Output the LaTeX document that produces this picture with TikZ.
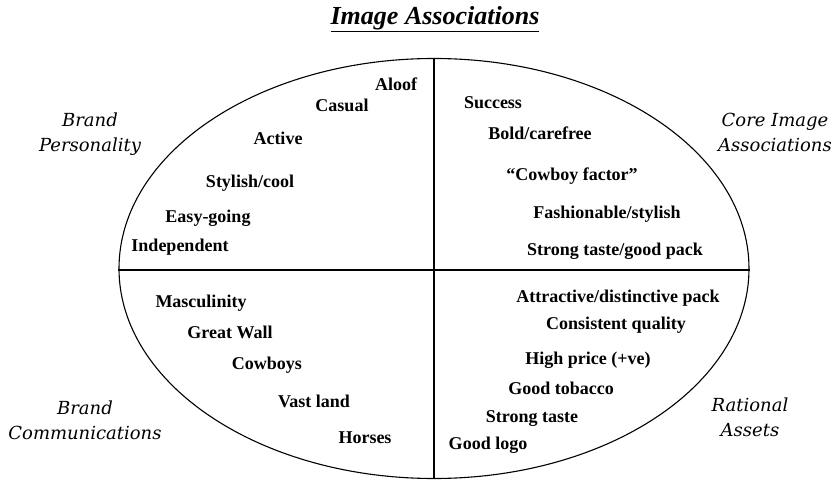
\documentclass[tikz,border=0pt]{standalone}
\usepackage{fontspec}
\setmainfont{Liberation Serif}
\newfontfamily\quadfont{DejaVu Serif}
\usetikzlibrary{shapes.geometric}
\begin{document}
\begin{tikzpicture}[x=1pt,y=-1pt,
  item/.style={inner sep=0pt, text height=12pt, text depth=0pt, font=\fontsize{18}{22}\selectfont\bfseries},
  quad/.style={inner sep=0pt, align=center, font=\quadfont\itshape\fontsize{18}{25}\selectfont},
  frame/.style={draw, line width=1.1pt}]
\useasboundingbox (0,0) rectangle (836,481);
\node[inner sep=0pt, font=\fontsize{26}{30}\selectfont\bfseries\itshape] (title) at (435,19) {\underline{Image Associations}};
\node[frame, ellipse, inner sep=0pt, minimum width=630, minimum height=420] (ell) at (434,268.5) {};
\draw[line width=1.1pt] (ell.north) -- (ell.south);
\draw[line width=1.1pt] ([yshift=-1.5pt]ell.west) -- ([yshift=-1.5pt]ell.east);
% quadrant labels
\node[quad] (bp) at (90,134) {Brand\\Personality};
\node[quad] (cia) at (775,132) {Core Image\\Associations};
\node[quad] (bc) at (85,420) {Brand\\Communications};
\node[quad] (ra) at (750,417) {Rational\\Assets};
% top left
\node[item] (aloof) at (396,85) {Aloof};
\node[item] (casual) at (342,106) {Casual};
\node[item] (active) at (278,139) {Active};
\node[item] (stylish) at (250,182) {Stylish/cool};
\node[item] (easy) at (208,217) {Easy-going};
\node[item] (indep) at (180,246) {Independent};
% top right
\node[item] (success) at (493,103) {Success};
\node[item] (bold) at (540,134) {Bold/carefree};
\node[item] (cowboyf) at (572,175) {``Cowboy factor''};
\node[item] (fash) at (607,213) {Fashionable/stylish};
\node[item] (strongpack) at (615,250) {Strong taste/good pack};
% bottom left
\node[item] (masc) at (201,302) {Masculinity};
\node[item] (wall) at (230,332) {Great Wall};
\node[item] (cowboys) at (267,364) {Cowboys};
\node[item] (vast) at (314,401) {Vast land};
\node[item] (horses) at (365,437) {Horses};
% bottom right
\node[item] (attr) at (618,297) {Attractive/distinctive pack};
\node[item] (cons) at (616,324) {Consistent quality};
\node[item] (price) at (588,358) {High price (+ve)};
\node[item] (tob) at (561,388) {Good tobacco};
\node[item] (strong) at (532,416) {Strong taste};
\node[item] (logo) at (488,443) {Good logo};
\end{tikzpicture}
\end{document}
